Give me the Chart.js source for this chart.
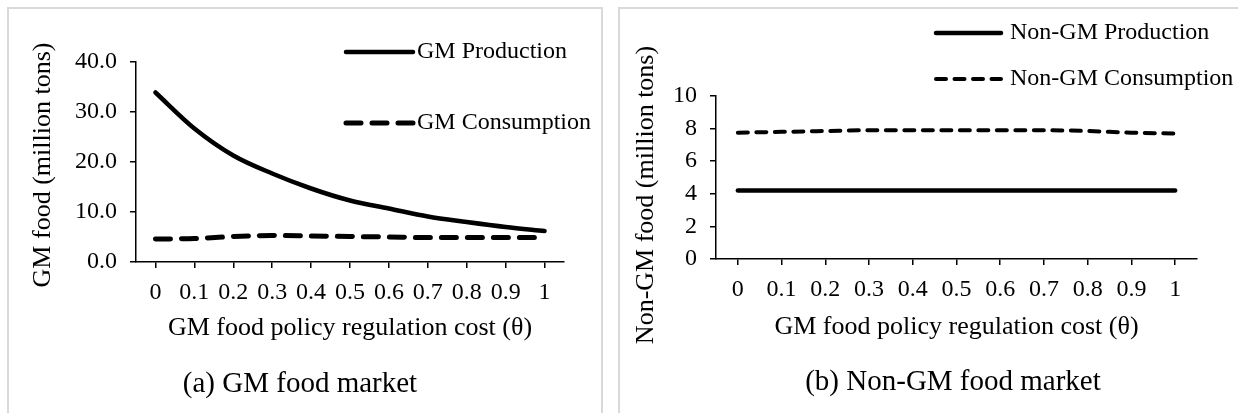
<!DOCTYPE html>
<html>
<head>
<meta charset="utf-8">
<script src="https://cdn.jsdelivr.net/npm/chart.js@4.4.1/dist/chart.umd.min.js"></script>
<style>
body { margin: 0; background: #fff; width: 1238px; height: 413px; overflow: hidden; position: relative; font-family: 'Liberation Serif', 'Times New Roman', serif; }
.box { position: absolute; border: 2px solid #d9d9d9; border-bottom: none; }
canvas { position: absolute; top: 0; }
.cap { position: absolute; font-size: 29px; color: #000; white-space: nowrap; transform: translate(-50%, -50%); }
</style>
</head>
<body>
<div class="box" style="left:7px;top:7px;width:592px;height:420px"></div>
<div class="box" style="left:618px;top:7px;width:700px;height:420px;border-right:none"></div>
<canvas id="chartA" width="610" height="413" style="left:0"></canvas>
<canvas id="chartB" width="628" height="413" style="left:610px"></canvas>
<div class="cap" style="left:300px;top:382px">(a) GM food market</div>
<div class="cap" style="left:953px;top:380px">(b) Non-GM food market</div>
<script>
// x 轴：监管成本 θ
var thetaLabels = ['0', '0.1', '0.2', '0.3', '0.4', '0.5', '0.6', '0.7', '0.8', '0.9', '1'];
// (a) 转基因食品市场
var gmProduction = [33.9, 26.7, 21.3, 17.7, 14.7, 12.3, 10.7, 9.1, 8.0, 7.0, 6.2];
var gmConsumption = [4.6, 4.7, 5.1, 5.3, 5.2, 5.1, 5.0, 4.9, 4.9, 4.9, 4.9];
// (b) 非转基因食品市场
var nonGmProduction = [4.2, 4.2, 4.2, 4.2, 4.2, 4.2, 4.2, 4.2, 4.2, 4.2, 4.2];
var nonGmConsumption = [7.75, 7.8, 7.85, 7.9, 7.9, 7.9, 7.9, 7.9, 7.85, 7.75, 7.7];

var serif = "'Liberation Serif', 'Times New Roman', serif";

// 图例和 y 轴标题：按数据集的线型画线样和文字
var lineLegend = {
    id: 'lineLegend',
    afterDraw: function (chart, args, opts) {
        var ctx = chart.ctx;
        ctx.save();
        chart.data.datasets.forEach(function (ds, i) {
            var y = opts.rows[i];
            ctx.beginPath();
            ctx.lineWidth = ds.borderWidth;
            ctx.lineCap = 'round';
            ctx.strokeStyle = ds.borderColor;
            ctx.setLineDash(ds.borderDash || []);
            ctx.moveTo(opts.x1, y);
            ctx.lineTo(opts.x2, y);
            ctx.stroke();
            ctx.setLineDash([]);
            ctx.fillStyle = '#000';
            ctx.font = '24px ' + serif;
            ctx.textBaseline = 'middle';
            ctx.fillText(ds.label, opts.textX, y);
        });
        // y 轴标题 (Excel 里不一定居中于坐标轴)
        ctx.translate(opts.yTitleX, opts.yTitleY);
        ctx.rotate(-Math.PI / 2);
        ctx.font = '26px ' + serif;
        ctx.textAlign = 'center';
        ctx.textBaseline = 'middle';
        ctx.fillText(chart.options.scales.y.title.text, 0, 0);
        ctx.restore();
    }
};

// 两个面板共用的坐标轴设置
function axisOptions(p) {
    return {
        x: {
            type: 'category',
            offset: true,
            grid: { drawOnChartArea: false, drawTicks: true, tickLength: 6, color: '#000', lineWidth: 1.5, offset: false },
            border: { display: true, color: '#000', width: 1.5 },
            ticks: { color: '#000', font: { family: serif, size: 24 }, padding: 10, autoSkip: false, maxRotation: 0 },
            title: { display: true, text: 'GM food policy regulation cost (θ)', color: '#000', font: { family: serif, size: 26 }, padding: { top: 0, bottom: p.xTitlePad } },
            afterFit: function (s) { s.height = p.xHeight; }
        },
        y: {
            min: 0,
            max: p.yMax,
            grid: { drawOnChartArea: false, drawTicks: true, tickLength: 6, color: '#000', lineWidth: 1.5 },
            border: { display: true, color: '#000', width: 1.5 },
            ticks: { stepSize: p.yStep, color: '#000', font: { family: serif, size: 24 }, padding: 13, callback: p.yFormat },
            title: { display: false, text: p.yTitle },
            afterFit: function (s) { s.width = p.yWidth; }
        }
    };
}

function lineSet(label, data, width, dash) {
    return {
        label: label,
        data: data,
        borderColor: '#000',
        backgroundColor: '#000',
        borderWidth: width,
        borderDash: dash,
        borderCapStyle: 'round',
        pointRadius: 0,
        fill: false,
        cubicInterpolationMode: 'monotone'
    };
}

Chart.defaults.animation = false;
Chart.defaults.devicePixelRatio = 1;

new Chart(document.getElementById('chartA'), {
    type: 'line',
    data: {
        labels: thetaLabels,
        datasets: [
            lineSet('GM Production', gmProduction, 4.5, []),
            lineSet('GM Consumption', gmConsumption, 5, [15, 11])
        ]
    },
    options: {
        responsive: false,
        layout: { padding: { top: 62, right: 46, left: 0, bottom: 0 } },
        plugins: {
            legend: { display: false },
            tooltip: { enabled: false },
            lineLegend: { x1: 346, x2: 413, textX: 417, rows: [52, 123], yTitleX: 43, yTitleY: 165 }
        },
        scales: axisOptions({
            yMax: 40, yStep: 10, yWidth: 136, xHeight: 151, xTitlePad: 69,
            yTitle: 'GM food (million tons)',
            yFormat: function (v) { return v.toFixed(1); }
        })
    },
    plugins: [lineLegend]
});

new Chart(document.getElementById('chartB'), {
    type: 'line',
    data: {
        labels: thetaLabels,
        datasets: [
            lineSet('Non-GM Production', nonGmProduction, 4.5, []),
            lineSet('Non-GM Consumption', nonGmConsumption, 4, [10, 8.5])
        ]
    },
    options: {
        responsive: false,
        layout: { padding: { top: 96, right: 41, left: 0, bottom: 0 } },
        plugins: {
            legend: { display: false },
            tooltip: { enabled: false },
            lineLegend: { x1: 326, x2: 391, textX: 400, rows: [33, 79], yTitleX: 36, yTitleY: 195 }
        },
        scales: axisOptions({
            yMax: 10, yStep: 2, yWidth: 106, xHeight: 154, xTitlePad: 70,
            yTitle: 'Non-GM food (million tons)',
            yFormat: function (v) { return v; }
        })
    },
    plugins: [lineLegend]
});
</script>
</body>
</html>
